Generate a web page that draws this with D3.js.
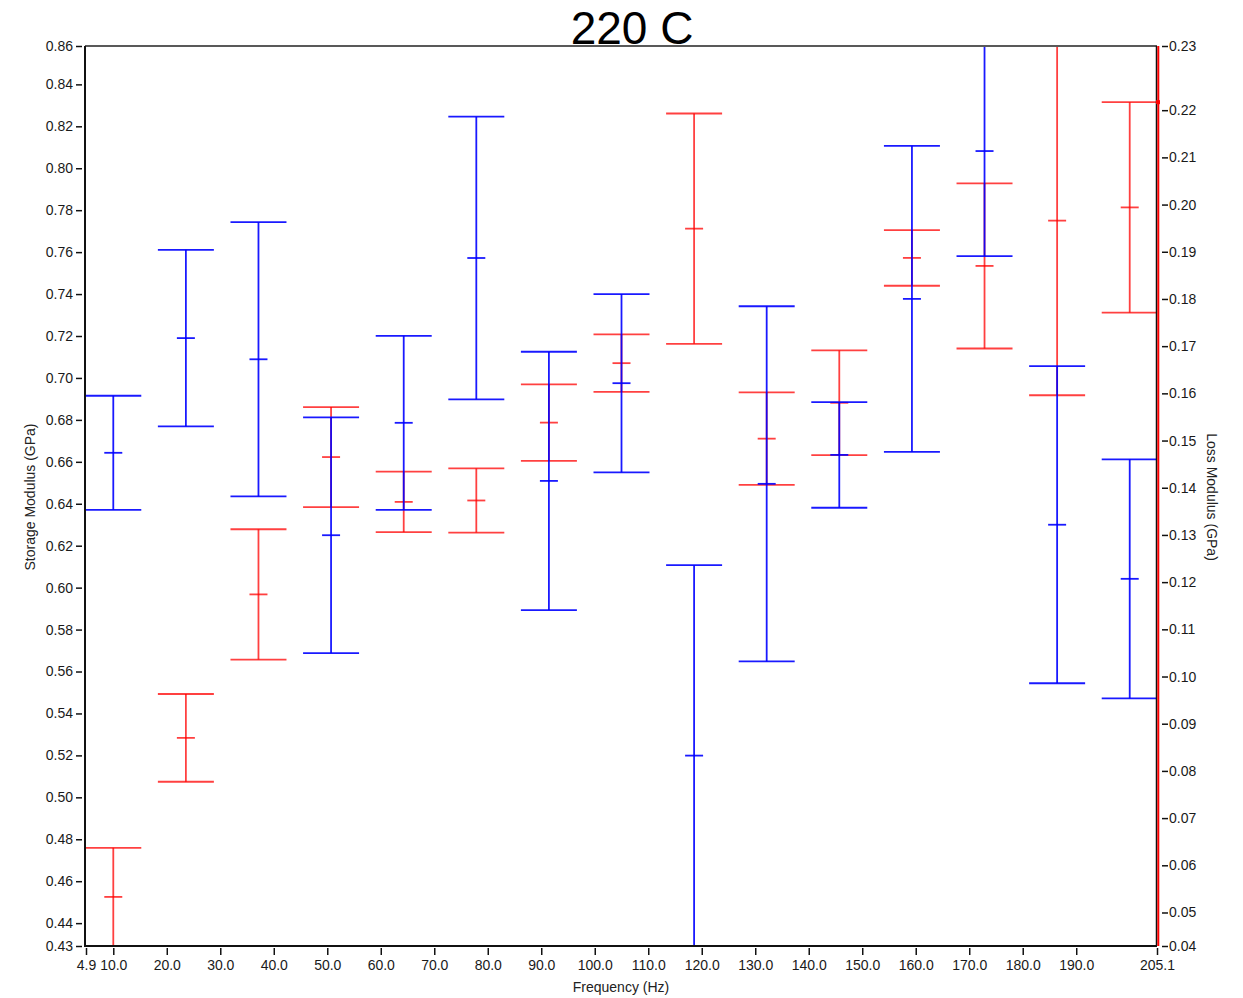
<!DOCTYPE html>
<html>
<head>
<meta charset="utf-8">
<script src="https://cdn.jsdelivr.net/npm/d3@7"></script>
<style>
  body { margin: 0; background: #fff; }
  svg { display: block; font-family: "Liberation Sans", Arial, sans-serif; }
</style>
</head>
<body>
<div id="chart"></div>
<script>
// frequencies (Hz) of the measurement points
const freqs = [10.0, 23.57, 37.14, 50.71, 64.29, 77.86, 91.43, 105.0, 118.57, 132.14, 145.71, 159.29, 172.86, 186.43, 200.0];

// storage modulus (GPa), mean and half error, left axis
const storageMean = [0.6643, 0.7190, 0.7089, 0.6250, 0.6786, 0.7572, 0.6509, 0.6975, 0.5199, 0.6495, 0.6633, 0.7377, 0.8082, 0.6300, 0.6042];
const storageErr  = [0.0272, 0.0421, 0.0654, 0.0562, 0.0415, 0.0674, 0.0616, 0.0425, 0.0908, 0.0847, 0.0252, 0.0730, 0.0501, 0.0756, 0.0570];

// loss modulus (GPa), mean and half error, right axis
const lossMean = [0.0533, 0.0870, 0.1174, 0.1465, 0.1370, 0.1373, 0.1538, 0.1664, 0.1949, 0.1504, 0.1580, 0.1887, 0.1870, 0.1966, 0.1994];
const lossErr  = [0.0104, 0.0093, 0.0138, 0.0106, 0.0064, 0.0068, 0.0081, 0.0061, 0.0244, 0.0098, 0.0111, 0.0059, 0.0175, 0.0370, 0.0223];

// tick labels
const xTicks = [4.9, 10, 20, 30, 40, 50, 60, 70, 80, 90, 100, 110, 120, 130, 140, 150, 160, 170, 180, 190, 205.1];
const storageTicks = [0.44, 0.46, 0.48, 0.50, 0.52, 0.54, 0.56, 0.58, 0.60, 0.62, 0.64, 0.66, 0.68, 0.70, 0.72, 0.74, 0.76, 0.78, 0.80, 0.82, 0.84];
const lossTicks = [0.05, 0.06, 0.07, 0.08, 0.09, 0.10, 0.11, 0.12, 0.13, 0.14, 0.15, 0.16, 0.17, 0.18, 0.19, 0.20, 0.21, 0.22];

let W = 1243, H = 998;
let p = {left: 86, right: 1157, top: 46, bottom: 946};

let svg = d3.select("#chart").append("svg")
    .attr("width", W)
    .attr("height", H);

let x = d3.scaleLinear()
    .domain([xTicks[0], xTicks[xTicks.length - 1]])
    .range([p.left, p.right]);

// both value axes span exactly the extent of the error bars
let sLo = storageMean.map((d, i) => d - storageErr[i]);
let sHi = storageMean.map((d, i) => d + storageErr[i]);
let lLo = lossMean.map((d, i) => d - lossErr[i]);
let lHi = lossMean.map((d, i) => d + lossErr[i]);

let yS = d3.scaleLinear()
    .domain([d3.min(sLo), d3.max(sHi)])
    .range([p.bottom, p.top]);

let yL = d3.scaleLinear()
    .domain([d3.min(lLo), d3.max(lHi)])
    .range([p.bottom, p.top]);

let fmt2 = d3.format(".2f");

// left axis
let gl = svg.append("g")
    .attr("transform", "translate(" + (p.left - 4) + ",0)")
    .call(d3.axisLeft(yS)
      .tickValues([yS.domain()[0]].concat(storageTicks, [yS.domain()[1]]))
      .tickSize(6)
      .tickPadding(3)
      .tickFormat(fmt2));
gl.select(".domain").remove();

// right axis
let gr = svg.append("g")
    .attr("transform", "translate(" + (p.right + 5) + ",0)")
    .call(d3.axisRight(yL)
      .tickValues([yL.domain()[0]].concat(lossTicks, [yL.domain()[1]]))
      .tickSize(6)
      .tickPadding(1)
      .tickFormat(fmt2));
gr.select(".domain").remove();

// bottom axis
let gb = svg.append("g")
    .attr("transform", "translate(0," + (p.bottom + 2) + ")")
    .call(d3.axisBottom(x)
      .tickValues(xTicks)
      .tickSize(7)
      .tickPadding(5)
      .tickFormat(d3.format(".1f")));
gb.select(".domain").remove();

svg.selectAll(".tick text")
    .attr("font-size", 14)
    .attr("font-family", "Liberation Sans, Arial, sans-serif")
    .attr("fill", "#1a1a1a");
svg.selectAll(".tick line")
    .attr("stroke", "#111")
    .attr("stroke-width", 1.5);

// error bars, clipped to plot area (caps lying on the frame stay hidden)
svg.append("clipPath")
    .attr("id", "plotclip")
  .append("rect")
    .attr("x", p.left)
    .attr("y", p.top + 1)
    .attr("width", p.right - p.left)
    .attr("height", p.bottom - p.top - 2);

let plot = svg.append("g").attr("clip-path", "url(#plotclip)");

function errorBars(cls, mean, err, y, color, op) {
  let g = plot.append("g")
      .attr("class", cls)
      .attr("stroke", color)
      .attr("stroke-width", 1.8)
      .attr("stroke-opacity", op)
      .selectAll("g")
      .data(freqs.map((f, i) => ({f: f, m: mean[i], e: err[i]})))
      .enter().append("g");

  g.append("line")
      .attr("x1", (d) => x(d.f))
      .attr("x2", (d) => x(d.f))
      .attr("y1", (d) => y(d.m - d.e))
      .attr("y2", (d) => y(d.m + d.e));

  g.append("line")   // upper cap
      .attr("x1", (d) => x(d.f) - 28)
      .attr("x2", (d) => x(d.f) + 28)
      .attr("y1", (d) => y(d.m + d.e))
      .attr("y2", (d) => y(d.m + d.e));

  g.append("line")   // lower cap
      .attr("x1", (d) => x(d.f) - 28)
      .attr("x2", (d) => x(d.f) + 28)
      .attr("y1", (d) => y(d.m - d.e))
      .attr("y2", (d) => y(d.m - d.e));

  g.append("line")   // mean
      .attr("x1", (d) => x(d.f) - 9)
      .attr("x2", (d) => x(d.f) + 9)
      .attr("y1", (d) => y(d.m))
      .attr("y2", (d) => y(d.m));
}

errorBars("loss", lossMean, lossErr, yL, "#ff0000", 0.75);
errorBars("storage", storageMean, storageErr, yS, "#0000ff", 0.9);

// frame
svg.append("line")
    .attr("x1", p.left - 1).attr("x2", p.right)
    .attr("y1", p.top).attr("y2", p.top)
    .attr("stroke", "#222").attr("stroke-width", 1.5);
svg.append("line")
    .attr("x1", p.left - 1).attr("x2", p.left - 1)
    .attr("y1", p.top).attr("y2", p.bottom + 1)
    .attr("stroke", "#111").attr("stroke-width", 2);
svg.append("line")
    .attr("x1", p.left - 1).attr("x2", p.right)
    .attr("y1", p.bottom).attr("y2", p.bottom)
    .attr("stroke", "#111").attr("stroke-width", 2);
svg.append("line")
    .attr("x1", p.right - 0.5).attr("x2", p.right - 0.5)
    .attr("y1", p.top).attr("y2", p.bottom)
    .attr("stroke", "#111").attr("stroke-width", 1.5);
svg.append("line")
    .attr("x1", p.right + 1.3).attr("x2", p.right + 1.3)
    .attr("y1", p.top).attr("y2", p.bottom)
    .attr("stroke", "#ff0000").attr("stroke-width", 2);

// small marker on the loss axis
let last = lossMean.length - 1;
svg.append("rect")
    .attr("x", p.right - 1)
    .attr("y", yL(lHi[last]) - 2)
    .attr("width", 4)
    .attr("height", 4)
    .attr("fill", "#ff0000");

// titles
svg.append("text")
    .attr("x", 632)
    .attr("y", 44)
    .attr("text-anchor", "middle")
    .attr("font-size", 46)
    .attr("fill", "#000")
    .text("220 C");

svg.append("text")
    .attr("x", 621)
    .attr("y", 992)
    .attr("text-anchor", "middle")
    .attr("font-size", 14)
    .attr("fill", "#222")
    .text("Frequency (Hz)");

svg.append("text")
    .attr("transform", "translate(35,497) rotate(-90)")
    .attr("text-anchor", "middle")
    .attr("font-size", 14)
    .attr("fill", "#222")
    .text("Storage Modulus (GPa)");

svg.append("text")
    .attr("transform", "translate(1207,497) rotate(90)")
    .attr("text-anchor", "middle")
    .attr("font-size", 14)
    .attr("fill", "#222")
    .text("Loss Modulus (GPa)");
</script>
</body>
</html>
